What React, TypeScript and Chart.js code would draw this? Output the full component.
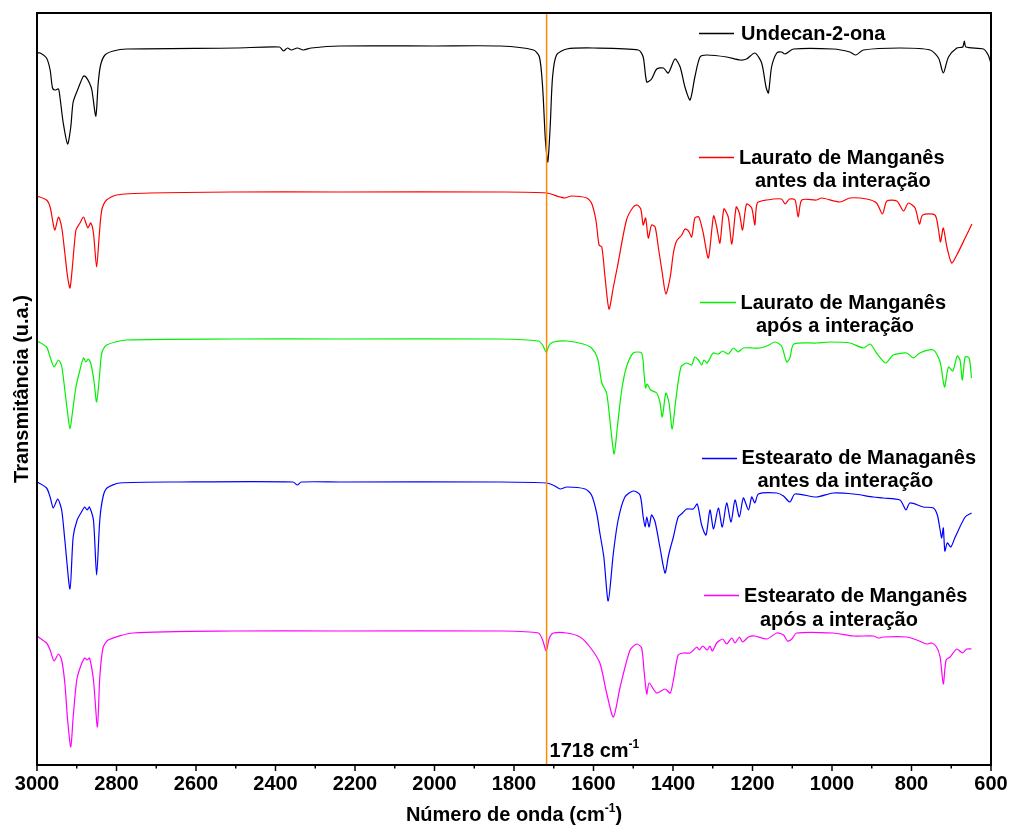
import { useEffect, useRef } from 'react';
import { Chart, registerables } from 'chart.js';

Chart.register(...registerables);

// ---------- data (wavenumber in cm-1, transmittance in arbitrary units incl. vertical offset) ----------
const WN_UNDECANONA = [3000, 2992, 2976, 2967, 2961, 2955, 2946, 2942, 2934, 2923, 2915, 2909, 2896, 2883, 2877, 2868, 2862, 2852, 2846, 2840, 2829, 2808, 2774, 2500, 2390, 2380, 2370, 2360, 2345, 2330, 2310, 2238, 2000, 1835, 1751, 1736, 1728, 1721, 1715, 1709, 1703, 1693, 1667, 1600, 1487, 1475, 1466, 1454, 1441, 1424, 1412, 1395, 1382, 1370, 1357, 1345, 1332, 1315, 1265, 1231, 1215, 1194, 1177, 1166, 1160, 1152, 1139, 1127, 1118, 1097, 997, 955, 940, 921, 829, 753, 732, 720, 707, 686, 671, 667, 663, 619, 607, 601];
const T_UNDECANONA = [71.2, 71.2, 70.7, 69.5, 67.7, 67.5, 67.6, 66.7, 64.2, 62.1, 63.8, 66.3, 67.7, 68.9, 68.8, 68.2, 67.5, 64.9, 68.2, 70.0, 71.0, 71.4, 71.6, 71.7, 71.8, 71.4, 71.7, 71.5, 71.7, 71.5, 71.7, 71.9, 71.9, 71.9, 71.5, 70.8, 67.8, 62.5, 60.3, 63.8, 68.8, 71.0, 71.6, 71.7, 71.5, 70.8, 68.3, 68.6, 69.6, 69.7, 69.2, 70.6, 69.8, 67.8, 66.5, 68.8, 70.8, 71.0, 70.8, 70.5, 70.6, 71.2, 70.2, 67.8, 67.2, 69.8, 71.2, 71.3, 71.1, 71.6, 71.6, 71.3, 71.0, 71.5, 71.7, 71.5, 70.7, 69.2, 70.8, 71.7, 71.8, 72.4, 71.8, 71.6, 71.0, 70.3];

const WN_LAURATO_ANTES = [3000, 2976, 2967, 2961, 2955, 2946, 2938, 2930, 2923, 2917, 2911, 2902, 2892, 2883, 2877, 2872, 2865, 2858, 2850, 2843, 2837, 2825, 2800, 2716, 2507, 2238, 1835, 1718, 1684, 1672, 1655, 1617, 1605, 1594, 1586, 1579, 1571, 1561, 1550, 1540, 1517, 1500, 1490, 1481, 1475, 1469, 1462, 1454, 1445, 1437, 1427, 1418, 1407, 1399, 1391, 1378, 1370, 1361, 1353, 1345, 1335, 1324, 1311, 1298, 1290, 1282, 1272, 1261, 1252, 1241, 1233, 1225, 1215, 1202, 1194, 1188, 1164, 1127, 1118, 1107, 1093, 1085, 1076, 1039, 1026, 980, 955, 913, 888, 873, 862, 837, 820, 808, 791, 780, 772, 741, 732, 727, 720, 711, 699, 686, 665, 648];
const T_LAURATO_ANTES = [56.9, 56.5, 55.8, 54.5, 53.5, 54.8, 53.8, 51.2, 48.8, 47.7, 49.8, 53.5, 54.2, 54.8, 54.2, 53.7, 54.2, 53.2, 49.8, 53.2, 55.5, 56.5, 57.0, 57.2, 57.3, 57.3, 57.3, 57.2, 56.8, 56.7, 56.9, 56.7, 56.2, 54.5, 52.0, 51.8, 48.8, 45.6, 47.8, 49.8, 54.5, 55.8, 56.0, 55.6, 54.0, 54.7, 52.7, 54.0, 53.8, 51.8, 49.2, 47.1, 48.8, 51.2, 52.4, 53.0, 53.6, 53.4, 52.8, 54.7, 54.8, 53.2, 50.7, 54.9, 53.8, 52.2, 55.6, 54.8, 52.1, 55.8, 55.2, 53.5, 56.1, 55.7, 54.0, 56.2, 56.5, 56.6, 56.1, 56.6, 56.5, 54.8, 56.5, 56.5, 56.7, 56.3, 56.7, 56.6, 56.2, 55.1, 56.4, 56.4, 55.4, 56.2, 55.7, 54.1, 55.0, 55.0, 53.5, 52.3, 53.7, 51.8, 50.2, 51.0, 52.7, 54.1];

const WN_LAURATO_APOS = [3000, 2976, 2967, 2957, 2946, 2938, 2930, 2923, 2917, 2911, 2902, 2892, 2883, 2877, 2871, 2865, 2857, 2850, 2843, 2837, 2825, 2774, 2507, 2238, 1835, 1739, 1728, 1719, 1711, 1701, 1667, 1626, 1605, 1590, 1579, 1567, 1556, 1548, 1540, 1529, 1517, 1500, 1479, 1473, 1469, 1465, 1456, 1441, 1433, 1427, 1418, 1410, 1402, 1393, 1380, 1366, 1353, 1345, 1336, 1328, 1322, 1314, 1299, 1286, 1275, 1261, 1248, 1236, 1223, 1198, 1181, 1164, 1143, 1127, 1114, 1106, 1096, 1039, 1005, 955, 921, 904, 888, 865, 846, 812, 795, 779, 745, 728, 717, 707, 696, 685, 678, 672, 665, 655, 649];
const T_LAURATO_APOS = [42.4, 41.8, 40.8, 39.8, 40.5, 39.9, 37.5, 35.2, 33.6, 35.2, 37.8, 39.5, 40.7, 40.3, 40.6, 40.2, 38.5, 36.3, 38.8, 41.2, 42.0, 42.5, 42.6, 42.6, 42.6, 42.4, 42.0, 41.3, 42.0, 42.3, 42.4, 42.1, 41.7, 40.7, 38.2, 37.2, 33.5, 31.1, 33.8, 37.5, 39.8, 41.2, 41.2, 39.2, 37.7, 38.1, 37.5, 37.2, 36.3, 34.8, 37.2, 36.2, 33.6, 36.5, 39.8, 40.2, 40.0, 40.8, 40.5, 40.0, 40.5, 40.2, 41.2, 41.1, 41.4, 41.1, 41.7, 41.3, 41.7, 41.7, 41.7, 41.9, 42.3, 41.9, 40.3, 40.7, 42.1, 42.2, 42.3, 42.2, 41.7, 42.1, 41.2, 40.2, 41.0, 41.2, 40.7, 41.2, 41.5, 40.3, 37.8, 39.8, 39.4, 40.9, 40.5, 38.5, 40.8, 40.7, 38.7];

const WN_ESTEARATO_ANTES = [3000, 2976, 2967, 2959, 2948, 2938, 2930, 2917, 2909, 2899, 2888, 2880, 2874, 2868, 2858, 2850, 2842, 2834, 2824, 2792, 2641, 2356, 2345, 2335, 2238, 1835, 1718, 1697, 1684, 1667, 1621, 1605, 1592, 1584, 1574, 1563, 1550, 1538, 1521, 1500, 1483, 1475, 1470, 1466, 1460, 1454, 1445, 1433, 1420, 1412, 1406, 1399, 1387, 1376, 1366, 1349, 1339, 1328, 1317, 1307, 1298, 1286, 1276, 1265, 1254, 1244, 1233, 1223, 1210, 1202, 1194, 1185, 1139, 1122, 1106, 1093, 1039, 997, 946, 896, 871, 829, 814, 804, 770, 745, 735, 728, 724, 720, 716, 710, 701, 690, 665, 649];
const T_ESTEARATO_ANTES = [28.3, 27.7, 26.8, 25.7, 26.6, 25.5, 22.5, 17.6, 22.8, 24.5, 25.3, 25.8, 25.5, 25.8, 24.5, 19.0, 24.5, 26.8, 27.7, 28.2, 28.3, 28.3, 28.0, 28.3, 28.3, 28.3, 28.2, 27.9, 27.6, 27.8, 27.6, 27.0, 25.2, 23.2, 20.8, 16.4, 21.2, 24.5, 26.8, 27.4, 27.0, 24.8, 23.8, 24.8, 23.8, 25.0, 24.3, 21.8, 19.2, 20.8, 21.8, 22.8, 24.8, 25.2, 25.6, 25.6, 26.1, 24.0, 23.0, 25.5, 23.6, 25.7, 23.8, 26.2, 24.3, 26.5, 24.8, 26.7, 25.5, 26.8, 26.2, 27.1, 27.2, 26.9, 26.3, 27.1, 26.8, 27.2, 27.1, 26.8, 26.7, 26.5, 25.5, 26.2, 25.8, 25.7, 25.0, 23.5, 22.7, 23.7, 21.4, 22.2, 21.8, 22.8, 24.8, 25.2];

const WN_ESTEARATO_APOS = [3000, 2976, 2967, 2957, 2946, 2938, 2930, 2923, 2915, 2909, 2900, 2890, 2880, 2874, 2868, 2858, 2848, 2842, 2834, 2821, 2758, 2507, 2238, 1835, 1739, 1728, 1719, 1711, 1701, 1667, 1634, 1609, 1584, 1567, 1550, 1533, 1508, 1491, 1479, 1473, 1466, 1460, 1441, 1420, 1407, 1399, 1387, 1374, 1357, 1340, 1334, 1325, 1314, 1307, 1301, 1290, 1275, 1265, 1252, 1244, 1233, 1225, 1210, 1194, 1164, 1139, 1122, 1112, 1101, 1089, 997, 946, 896, 883, 871, 812, 787, 762, 749, 737, 728, 720, 713, 703, 686, 672, 661, 649];
const T_ESTEARATO_APOS = [12.9, 12.2, 11.5, 10.4, 11.1, 10.5, 8.2, 4.5, 1.8, 4.8, 8.5, 9.9, 10.7, 10.5, 10.7, 8.5, 3.8, 8.8, 11.7, 12.5, 13.2, 13.4, 13.4, 13.4, 13.2, 12.5, 11.4, 12.7, 13.2, 13.2, 12.8, 11.8, 10.2, 7.2, 4.8, 7.8, 11.5, 12.1, 11.7, 9.5, 7.1, 8.2, 7.2, 7.6, 7.2, 8.5, 11.0, 11.2, 11.2, 11.8, 11.5, 11.9, 11.5, 11.9, 11.4, 12.2, 12.6, 12.1, 12.7, 12.2, 12.8, 12.3, 12.8, 12.9, 12.6, 13.2, 13.0, 12.4, 12.6, 13.2, 13.2, 12.9, 12.9, 12.7, 12.8, 12.8, 12.5, 12.1, 12.2, 11.8, 10.8, 8.1, 10.5, 10.8, 11.6, 11.2, 11.6, 11.6];

const X_TICKS = [3000, 2800, 2600, 2400, 2200, 2000, 1800, 1600, 1400, 1200, 1000, 800, 600];
const X_MIN = 600;
const X_MAX = 3000;
const Y_MIN = 0;
const Y_MAX = 75.2;
const MARKER_WN = 1718;

const SERIES_LABELS = [
  ['Undecan-2-ona'],
  ['Laurato de Manganês', 'antes da interação'],
  ['Laurato de Manganês', 'após a interação'],
  ['Estearato de Managanês', 'antes da interação'],
  ['Estearato de Manganês', 'após a interação'],
];
const SERIES_COLORS = ['#000000', '#FF0000', '#00F000', '#0000FF', '#FF00FF'];

const FONT = '"Liberation Sans", Arial, Helvetica, sans-serif';

const toPoints = (xs: number[], ys: number[]) => xs.map((x, i) => ({ x, y: ys[i] }));

export default function App() {
  const ref = useRef<HTMLCanvasElement | null>(null);

  useEffect(() => {
    document.body.style.margin = '0';
    const canvas = ref.current;
    if (!canvas) return;

    const seriesData = [
      toPoints(WN_UNDECANONA, T_UNDECANONA),
      toPoints(WN_LAURATO_ANTES, T_LAURATO_ANTES),
      toPoints(WN_LAURATO_APOS, T_LAURATO_APOS),
      toPoints(WN_ESTEARATO_ANTES, T_ESTEARATO_ANTES),
      toPoints(WN_ESTEARATO_APOS, T_ESTEARATO_APOS),
    ];

    // legend layout (pixel placement only)
    const legendLayout = [
      { lx0: 699, lx1: 734, ly: 33.5, tx: 741, b1: 39.5, tx2: 0, b2: 0 },
      { lx0: 699, lx1: 734, ly: 157.5, tx: 739, b1: 163.5, tx2: 755, b2: 187 },
      { lx0: 700, lx1: 736, ly: 302.5, tx: 740.5, b1: 308.5, tx2: 756, b2: 332 },
      { lx0: 702, lx1: 737, ly: 458.5, tx: 741.5, b1: 463.5, tx2: 757.5, b2: 487 },
      { lx0: 704, lx1: 739, ly: 595.5, tx: 744, b1: 601.5, tx2: 760, b2: 626 },
    ];

    const drawSup = (
      ctx: CanvasRenderingContext2D,
      main: string,
      sup: string,
      tail: string,
      x: number,
      y: number,
      align: 'left' | 'center',
      size: number,
    ) => {
      ctx.font = `bold ${size}px ${FONT}`;
      const w1 = ctx.measureText(main).width;
      const w3 = ctx.measureText(tail).width;
      ctx.font = `bold ${Math.round(size * 0.6)}px ${FONT}`;
      const w2 = ctx.measureText(sup).width;
      const total = w1 + w2 + w3;
      let sx = align === 'center' ? x - total / 2 : x;
      ctx.textAlign = 'left';
      ctx.textBaseline = 'alphabetic';
      ctx.font = `bold ${size}px ${FONT}`;
      ctx.fillText(main, sx, y);
      sx += w1;
      ctx.font = `bold ${Math.round(size * 0.6)}px ${FONT}`;
      ctx.fillText(sup, sx, y - size * 0.45);
      sx += w2;
      ctx.font = `bold ${size}px ${FONT}`;
      ctx.fillText(tail, sx, y);
    };

    const decor = {
      id: 'decor',
      afterDatasetsDraw(chart: any) {
        const { ctx, chartArea: a, scales } = chart;
        const xs = scales.x;
        ctx.save();

        // marker line 1718
        const mx = xs.getPixelForValue(MARKER_WN);
        ctx.strokeStyle = '#FF8C00';
        ctx.lineWidth = 1.5;
        ctx.beginPath();
        ctx.moveTo(mx, a.top);
        ctx.lineTo(mx, a.bottom);
        ctx.stroke();

        // frame
        ctx.strokeStyle = '#000';
        ctx.lineWidth = 2;
        ctx.strokeRect(a.left, a.top, a.right - a.left, a.bottom - a.top);

        // ticks
        ctx.lineWidth = 1.5;
        for (let v = X_MIN; v <= X_MAX; v += 100) {
          const px = xs.getPixelForValue(v);
          const major = v % 200 === 0;
          ctx.beginPath();
          ctx.moveTo(px, a.bottom);
          ctx.lineTo(px, a.bottom + (major ? 6 : 3.5));
          ctx.stroke();
        }

        // tick labels
        ctx.fillStyle = '#000';
        ctx.font = `bold 20px ${FONT}`;
        ctx.textAlign = 'center';
        ctx.textBaseline = 'alphabetic';
        X_TICKS.forEach((v) => {
          ctx.fillText(String(v), xs.getPixelForValue(v), a.bottom + 25);
        });

        // x title
        drawSup(ctx, 'Número de onda (cm', '-1', ')', (a.left + a.right) / 2, 821, 'center', 20);

        // y title
        ctx.save();
        ctx.translate(28, (a.top + a.bottom) / 2);
        ctx.rotate(-Math.PI / 2);
        ctx.font = `bold 20px ${FONT}`;
        ctx.textAlign = 'center';
        ctx.textBaseline = 'alphabetic';
        ctx.fillText('Transmitância (u.a.)', 0, 0);
        ctx.restore();

        // marker label
        drawSup(ctx, '1718 cm', '-1', '', mx + 3, a.bottom - 8, 'left', 20);

        // legend
        legendLayout.forEach((L, i) => {
          ctx.strokeStyle = SERIES_COLORS[i];
          ctx.lineWidth = 1.5;
          ctx.beginPath();
          ctx.moveTo(L.lx0, L.ly);
          ctx.lineTo(L.lx1, L.ly);
          ctx.stroke();
          ctx.fillStyle = '#000';
          ctx.font = `bold 20px ${FONT}`;
          ctx.textAlign = 'left';
          ctx.textBaseline = 'alphabetic';
          const lines = SERIES_LABELS[i];
          ctx.fillText(lines[0], L.tx, L.b1);
          if (lines[1]) ctx.fillText(lines[1], L.tx2, L.b2);
        });

        ctx.restore();
      },
    };

    const chart = new Chart(canvas, {
      type: 'line',
      data: {
        datasets: seriesData.map((d, i) => ({
          label: SERIES_LABELS[i].join(' '),
          data: d,
          borderColor: SERIES_COLORS[i],
          backgroundColor: SERIES_COLORS[i],
          borderWidth: 1.2,
          pointRadius: 0,
          fill: false,
          tension: 0.25,
        })),
      },
      options: {
        responsive: false,
        animation: false,
        devicePixelRatio: 1,
        layout: { padding: { left: 37, top: 13, right: 19, bottom: 64 } },
        plugins: {
          legend: { display: false },
          tooltip: { enabled: false },
        },
        scales: {
          x: { type: 'linear', reverse: true, min: X_MIN, max: X_MAX, display: false },
          y: { type: 'linear', min: Y_MIN, max: Y_MAX, display: false },
        },
      },
      plugins: [decor],
    });

    return () => chart.destroy();
  }, []);

  return (
    <div style={{ position: 'absolute', left: 0, top: 0, width: 1010, height: 829, background: '#fff' }}>
      <canvas ref={ref} width={1010} height={829} style={{ display: 'block', width: 1010, height: 829 }} />
    </div>
  );
}
